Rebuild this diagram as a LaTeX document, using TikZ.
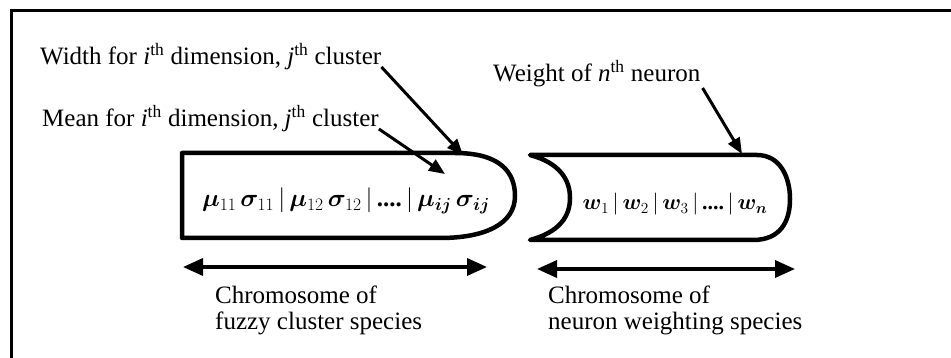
\RequirePackage{fix-cm}
\documentclass[tikz,border=0pt]{standalone}
\usepackage{amsmath,amssymb,bm}
\usepackage{fontspec}
\setmainfont{Liberation Serif}
\usetikzlibrary{arrows.meta}
\begin{document}
\begin{tikzpicture}[x=1pt,y=-1pt,
  lbl/.style={anchor=base west,inner sep=0pt,font=\fontsize{25}{29}\selectfont},
  chrom/.style={line width=4.5pt,line join=round},
  pointer/.style={line width=3pt,-{Triangle[length=16pt,width=13pt]}},
  span/.style={line width=3.5pt,{Triangle[length=20pt,width=17pt]}-{Triangle[length=20pt,width=17pt]}},
  gene/.style={anchor=base,inner sep=0pt,font=\fontsize{25}{30}\selectfont}]
\useasboundingbox (0,0) rectangle (951,358);
\begin{scope}
\clip (0,0) rectangle (951,358);
\draw[line width=3pt] (11,11) rectangle (980,400);
\end{scope}
% chromosomes
\draw[chrom] (182,153) -- (455,153) .. controls (500,153) and (515,172) .. (515,196)
  .. controls (515,224) and (485,238) .. (440,238) -- (182,238) -- cycle;
\draw[chrom] (530,155) -- (757,155) .. controls (780,155) and (790,177) .. (790,199)
  .. controls (790,222) and (780,240) .. (753,240) -- (530,240)
  .. controls (560,232) and (570,216) .. (570,198)
  .. controls (570,180) and (560,163) .. (530,155) -- cycle;
% gene texts
\node[gene] (g1) at (346,207) {$\boldsymbol{\mu}_{11}\,\boldsymbol{\sigma}_{11}\,|\,\boldsymbol{\mu}_{12}\,\boldsymbol{\sigma}_{12}\,|\,\textbf{....}\,|\,\boldsymbol{\mu}_{\boldsymbol{ij}}\,\boldsymbol{\sigma}_{\boldsymbol{ij}}$};
\node[gene,font=\fontsize{22}{27}\selectfont] (g2) at (675,210) {$\boldsymbol{w}_1\,|\,\boldsymbol{w}_2\,|\,\boldsymbol{w}_3\,|\,\textbf{....}\,|\,\boldsymbol{w}_{\boldsymbol{n}}$};
% labels
\node[lbl] (wid) at (40,65) {Width for \textit{i}\textsuperscript{th} dimension, \textit{j}\textsuperscript{th} cluster};
\node[lbl] (mean) at (42,127) {Mean for \textit{i}\textsuperscript{th} dimension, \textit{j}\textsuperscript{th} cluster};
\node[lbl] (wt) at (493,82) {Weight of \textit{n}\textsuperscript{th} neuron};
\coordinate (tw) at (463,155);
\coordinate (tm) at (445,174);
\coordinate (tn) at (742,154);
\draw[pointer] (wid.base east) ++(0,2) -- (tw);
\draw[pointer] (mean.base east) ++(0,2) -- (tm);
\draw[pointer] (wt.base east) ++(2,6) -- (tn);
% spans
\coordinate (a1) at (183,267);
\coordinate (a2) at (487,267);
\coordinate (b1) at (537,269);
\coordinate (b2) at (795,269);
\draw[span] (a1) -- (a2);
\draw[span] (b1) -- (b2);
\node[lbl] (c1) at (215,303) {Chromosome of};
\node[lbl] (c1b) at (215,330) {fuzzy cluster species};
\node[lbl] (c2) at (548,303) {Chromosome of};
\node[lbl] (c2b) at (548,330) {neuron weighting species};
\end{tikzpicture}
\end{document}
